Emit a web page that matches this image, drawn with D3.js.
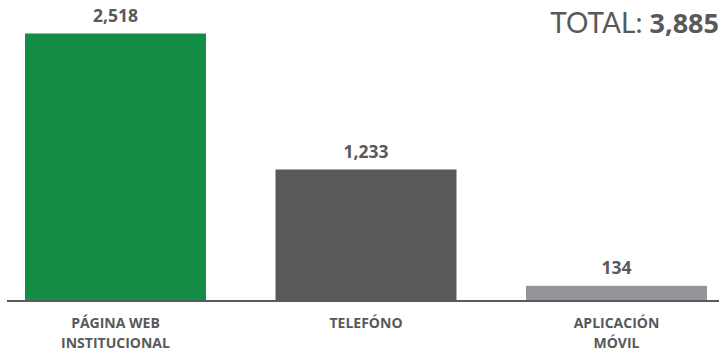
<!DOCTYPE html>
<html><head><meta charset="utf-8">
<script src="https://cdn.jsdelivr.net/npm/d3@7"></script>
<style>
html,body{margin:0;padding:0;background:#fff;}
svg{display:block;}
text{font-family:"Open Sans","Noto Sans",sans-serif;fill:#58595B;}
</style></head>
<body>
<svg id="chart" width="719" height="351"></svg>
<script>
const categories = [["PÁGINA WEB","INSTITUCIONAL"],["TELEFÓNO"],["APLICACIÓN","MÓVIL"]];
const categoryKeys = ["web","telefono","app"];
const values = [2518, 1233, 134];
const colors = ["#138D45","#58595B","#939598"];
const totalLabel = "TOTAL:";
const totalValue = 3885;

const svg = d3.select("#chart");
const fmt = d3.format(",");

const x = d3.scaleBand().domain(categoryKeys).range([25, 707]).paddingInner(0.2775).paddingOuter(0);
const y = d3.scaleLinear().domain([0, 2518]).range([300, 33.5]);

svg.selectAll("rect.bar").data(values).join("rect")
  .attr("class","bar")
  .attr("x",(d,i)=>x(categoryKeys[i]))
  .attr("width",x.bandwidth())
  .attr("y",d=>y(d))
  .attr("height",d=>y(0)-y(d))
  .attr("fill",(d,i)=>colors[i]);

// baseline
svg.append("line").attr("x1",7).attr("x2",719).attr("y1",y(0)+1).attr("y2",y(0)+1)
  .attr("stroke","#58595B").attr("stroke-width",2);

// value labels
svg.selectAll("text.val").data(values).join("text")
  .attr("class","val")
  .attr("x",(d,i)=>x(categoryKeys[i])+x.bandwidth()/2)
  .attr("y",d=>y(d)-12)
  .attr("text-anchor","middle")
  .attr("font-size",17.5).attr("font-weight",700)
  .text(d=>fmt(d));

// category labels
const cat = svg.selectAll("g.cat").data(categories).join("g").attr("class","cat")
  .attr("transform",(d,i)=>`translate(${x(categoryKeys[i])+x.bandwidth()/2},0)`);
cat.selectAll("text").data(d=>d).join("text")
  .attr("x",0).attr("y",(d,j)=>328+j*20)
  .attr("text-anchor","middle")
  .attr("font-size",14).attr("font-weight",700)
  .text(d=>d);

// total
const t = svg.append("text").attr("x",719).attr("y",33).attr("text-anchor","end").attr("font-size",28);
t.append("tspan").attr("font-family","Lato, 'Open Sans', sans-serif").attr("font-weight",400).text(totalLabel+" ");
t.append("tspan").attr("font-weight",700).attr("font-size",27).text(fmt(totalValue));
</script>
</body></html>
